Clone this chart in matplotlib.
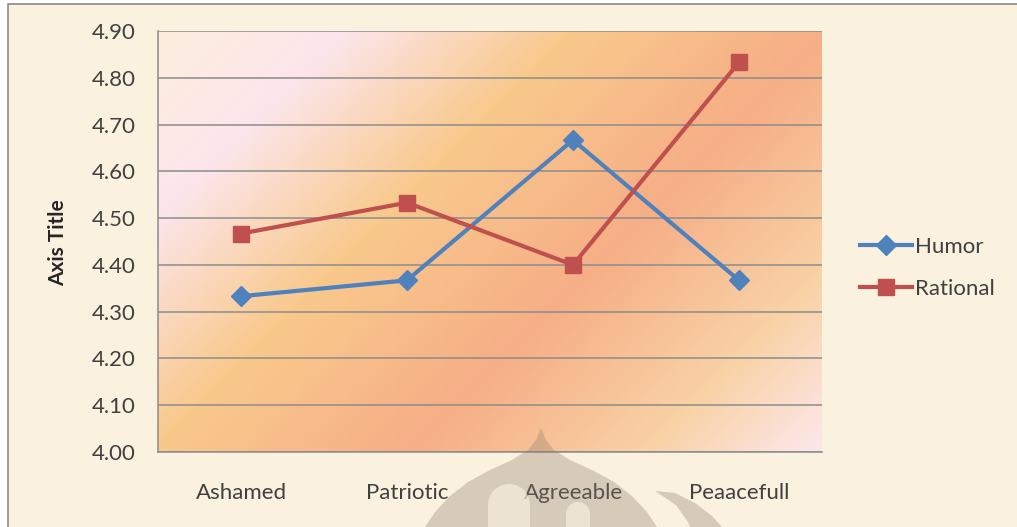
import numpy as np
import matplotlib
matplotlib.use("Agg")
import matplotlib.pyplot as plt
from matplotlib.patches import Rectangle, Polygon
from matplotlib.colors import LinearSegmentedColormap

categories = ["Ashamed", "Patriotic", "Agreeable", "Peaacefull"]
humor = [4.333, 4.367, 4.667, 4.367]
rational = [4.467, 4.533, 4.400, 4.833]
yticks = [4.00, 4.10, 4.20, 4.30, 4.40, 4.50, 4.60, 4.70, 4.80, 4.90]

W, H = 1017, 527
plt.rcParams['font.family'] = ['Lato', 'DejaVu Sans']
fig = plt.figure(figsize=(W / 100, H / 100), dpi=100)
fig.patch.set_facecolor('white')

def px(x, y):
    return (x / W, 1 - y / H)

# chart background frame
fig.patches.append(Rectangle(px(8, 600), 1.2, (600 - 4) / H, transform=fig.transFigure,
                             facecolor='#FBF1DF', edgecolor='#8A8A8A', linewidth=1.2, zorder=-10))

ax = fig.add_axes([158 / W, 1 - 452 / H, (822 - 158) / W, (452 - 31) / H])
ax.set_facecolor('none')

# gradient plot area
gx = np.linspace(0, 664, 300)
gy = np.linspace(0, 422, 200)
GX, GY = np.meshgrid(gx, gy)
T = (GX + GY) / (664 + 422)
cmap = LinearSegmentedColormap.from_list('bg', [
    (0.0, '#FCEEDC'), (0.17, '#FCE6EC'), (0.38, '#F9C98C'),
    (0.62, '#F6AE86'), (0.84, '#F9D2A6'), (1.0, '#FCE8EC')])
ax.imshow(T, cmap=cmap, extent=[0, 1, 0, 1], transform=ax.transAxes,
          aspect='auto', origin='upper', zorder=0, vmin=0, vmax=1)

x = np.arange(len(categories))
ax.set_xlim(-0.5, len(categories) - 0.5)
ax.set_ylim(4.0, 4.9)
ax.set_yticks(yticks)
ax.set_yticklabels([f"{v:.2f}" for v in yticks])
ax.set_xticks(x)
ax.set_xticklabels(categories)
ax.grid(axis='y', color='#8C8C8C', linewidth=1.1, zorder=1)
ax.set_axisbelow(False)
for s in ['top', 'right']:
    ax.spines[s].set_visible(False)
for s in ['left', 'bottom']:
    ax.spines[s].set_color('#8C8C8C')
    ax.spines[s].set_linewidth(1.1)
ax.tick_params(axis='both', length=0, labelsize=16, colors='#404040')
ax.tick_params(axis='x', pad=22)
ax.tick_params(axis='y', pad=16)

ax.plot(x, humor, color='#4F81BD', linewidth=3, marker='D', markersize=10,
        label='Humor', zorder=3, clip_on=False)
ax.plot(x, rational, color='#C0504D', linewidth=3, marker='s', markersize=11,
        label='Rational', zorder=3, clip_on=False)

fig.text(58 / W, 1 - 243 / H, 'Axis Title', rotation=90, fontsize=15,
         fontweight='bold', color='#262626', ha='center', va='center')

fig.legend(loc='center left', bbox_to_anchor=(860 / W, 1 - 268 / H),
           frameon=False, fontsize=16, handlelength=2.35, handletextpad=0.12,
           labelspacing=1.0, borderpad=0, borderaxespad=0, labelcolor='#404040')

# faint watermark at bottom
left = [(541, 428), (536, 440), (528, 450), (512, 460), (490, 470), (468, 482),
        (450, 496), (435, 512), (425, 527)]
right = [(657, 527), (647, 512), (632, 496), (614, 482), (592, 470), (570, 460),
         (554, 450), (546, 440)]
dome = left + [(425, 540), (657, 540)] + right
fig.patches.append(Polygon([px(a, b) for a, b in dome], closed=True,
                           transform=fig.transFigure, facecolor='#8A7E6A',
                           alpha=0.33, edgecolor='none', zorder=5))

for cx, half, top in [(509, 21, 484), (578, 12, 502)]:
    th = np.linspace(np.pi, 0, 30)
    pts = [(cx - half, 540)] + [(cx + half * np.cos(t), top + half - half * np.sin(t)) for t in th] + [(cx + half, 540)]
    fig.patches.append(Polygon([px(a, b) for a, b in pts], closed=True,
                               transform=fig.transFigure, facecolor='#FBF1DF',
                               alpha=0.65, edgecolor='none', zorder=6))

sweep = [(655, 491), (675, 493), (695, 503), (712, 516), (722, 527), (722, 540),
         (695, 540), (688, 522), (676, 505)]
fig.patches.append(Polygon([px(a, b) for a, b in sweep], closed=True,
                           transform=fig.transFigure, facecolor='#8A7E6A',
                           alpha=0.33, edgecolor='none', zorder=5))

fig.savefig('out.png', dpi=100)
